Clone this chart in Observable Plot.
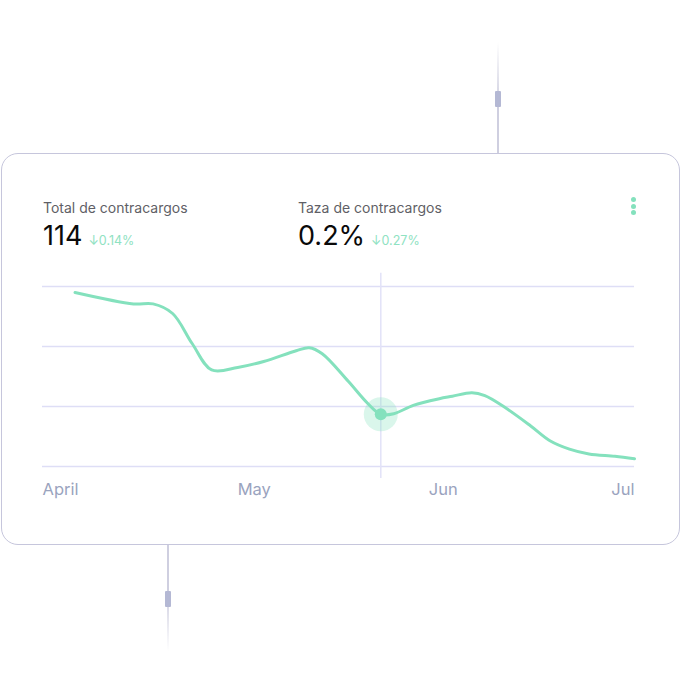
<!DOCTYPE html>
<html>
<head>
<meta charset="utf-8">
<script src="https://cdn.jsdelivr.net/npm/d3@7"></script>
<script src="https://cdn.jsdelivr.net/npm/@observablehq/plot@0.6"></script>
<style>
  html, body { margin: 0; padding: 0; background: #fff; font-family: Inter, "Noto Sans", sans-serif; }
  #page { position: relative; width: 683px; height: 696px; overflow: hidden; }
  .card { position: absolute; left: 0.5px; top: 153px; width: 677px; height: 390px; border: 1.5px solid #c6c6dc; border-radius: 17px; background: #fff; box-sizing: content-box; }
  .conn { position: absolute; width: 2px; }
  .conn.top { left: 497px; top: 42px; height: 112px; background: linear-gradient(to bottom, rgba(207,207,224,0), #cfcfe0 55%); }
  .conn.bot { left: 167px; top: 545px; height: 106px; background: linear-gradient(to bottom, #cfcfe0 45%, rgba(207,207,224,0)); }
  .tab { position: absolute; width: 6px; height: 16px; background: #b4b8d4; border-radius: 1px; }
  .kpi { position: absolute; }
  .kpi .label { font-size: 14px; color: #5f5f66; line-height: 1; }
  .kpi .val { font-size: 27px; color: #0a0a0a; line-height: 1; margin-top: 7px; white-space: nowrap; }
  .kpi .delta { font-size: 12.5px; color: #8fe2c2; margin-left: 6px; }
  .menu { position: absolute; left: 631px; top: 197px; }
  .menu i { display: block; width: 5px; height: 5px; border-radius: 50%; background: #84e1bd; margin-bottom: 1.5px; }
  #chart { position: absolute; left: 0; top: 270px; }
</style>
</head>
<body>
<div id="page">
  <div class="conn top"></div>
  <div class="tab" style="left:495px;top:91px"></div>
  <div class="conn bot"></div>
  <div class="tab" style="left:165px;top:591px"></div>
  <div class="card"></div>
  <div class="kpi" style="left:43px;top:201px">
    <div class="label" id="k1label"></div>
    <div class="val"><span id="k1val"></span><span class="delta" id="k1delta"></span></div>
  </div>
  <div class="kpi" style="left:298px;top:201px">
    <div class="label" id="k2label"></div>
    <div class="val"><span id="k2val"></span><span class="delta" id="k2delta"></span></div>
  </div>
  <div class="menu"><i></i><i></i><i></i></div>
  <div id="chart"></div>
</div>
<script>
// KPI texts
const kpiLabels = ["Total de contracargos", "Taza de contracargos"];
const kpiValues = ["114", "0.2%"];
const kpiDeltas = ["↓0.14%", "↓0.27%"];

// Series (dates and values)
const dates = [
  "2023-04-06", "2023-04-15", "2023-04-18", "2023-04-21", "2023-04-24", "2023-04-27",
  "2023-05-01", "2023-05-05", "2023-05-10", "2023-05-12", "2023-05-14", "2023-05-18",
  "2023-05-21", "2023-05-23", "2023-05-25", "2023-05-28", "2023-06-01", "2023-06-03",
  "2023-06-06", "2023-06-08", "2023-06-11", "2023-06-15", "2023-06-18", "2023-06-21",
  "2023-06-24", "2023-06-28", "2023-07-01"
];
const values = [
  290, 271, 271, 255, 205, 161,
  165, 175, 193, 198, 188, 142,
  105, 87, 88, 102, 113, 117,
  123, 118, 99, 68, 43, 29,
  21, 17, 13
];
const highlightDate = "2023-05-23";
const highlightValue = 87;

// Axis
const gridValues = [0, 100, 200, 300];
const tickDates = ["2023-04-01", "2023-05-01", "2023-06-01", "2023-07-01"];
const tickLabels = ["April", "May", "Jun", "Jul"];

document.getElementById("k1label").textContent = kpiLabels[0];
document.getElementById("k2label").textContent = kpiLabels[1];
document.getElementById("k1val").textContent = kpiValues[0];
document.getElementById("k2val").textContent = kpiValues[1];
document.getElementById("k1delta").textContent = kpiDeltas[0];
document.getElementById("k2delta").textContent = kpiDeltas[1];

const parse = d3.utcParse("%Y-%m-%d");
const data = dates.map((d, i) => ({date: parse(d), value: values[i]}));
const ticks = tickDates.map((d, i) => ({date: parse(d), label: tickLabels[i]}));
const hl = [{date: parse(highlightDate), value: highlightValue}];

const lineColor = "#84e1bd";
const labelStyle = {fontSize: 16.5, fill: "#9aa3be", fontFamily: "Inter", frameAnchor: "bottom", dy: 28};

const chart = Plot.plot({
  width: 683,
  height: 240,
  marginLeft: 42,
  marginRight: 49,
  marginTop: 16,
  marginBottom: 44,
  style: {background: "transparent", overflow: "visible"},
  x: {type: "utc", domain: [parse(tickDates[0]), parse(tickDates[3])], axis: null},
  y: {domain: [0, 300], axis: null},
  marks: [
    Plot.ruleY(gridValues, {stroke: "#dedef6", strokeWidth: 1.5}),
    Plot.ruleX(hl, {x: "date", y1: -20, y2: 322, stroke: "#e2e2f8", strokeWidth: 1.5}),
    Plot.line(data, {x: "date", y: "value", curve: "catmull-rom", stroke: lineColor, strokeWidth: 3}),
    Plot.dot(hl, {x: "date", y: "value", r: 17, fill: "#84e1bd", fillOpacity: 0.3, stroke: "none"}),
    Plot.dot(hl, {x: "date", y: "value", r: 6, fill: lineColor, stroke: "none"}),
    Plot.text(ticks.slice(0, 2), {x: "date", text: "label", textAnchor: "start", ...labelStyle}),
    Plot.text(ticks.slice(2, 3), {x: "date", text: "label", textAnchor: "middle", dx: 4, ...labelStyle}),
    Plot.text(ticks.slice(3), {x: "date", text: "label", textAnchor: "end", ...labelStyle})
  ]
});
document.getElementById("chart").appendChild(chart);
</script>
</body>
</html>
